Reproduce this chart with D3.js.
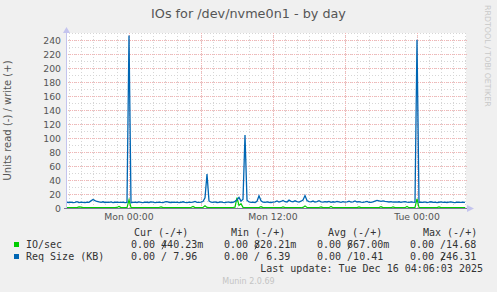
<!DOCTYPE html>
<html>
<head>
<meta charset="UTF-8">
<title>IOs for /dev/nvme0n1 - by day</title>
<script src="https://d3js.org/d3.v7.min.js"></script>
<style>
  body { margin: 0; background: #f0f0f0; }
  svg { display: block; font-family: "DejaVu Sans", sans-serif; }
  .mono { font-family: "DejaVu Sans Mono", monospace; font-size: 10px; fill: #333; white-space: pre; }
  .tick-label { font-size: 9.3px; fill: #555; }
</style>
</head>
<body>
<svg id="chart" width="497" height="292"></svg>
<script>
// samples every 10 minutes, starting Sun 14 Dec 2025 18:50
const startTime = new Date(2025, 11, 14, 18, 50);
const stepMinutes = 10;

// Req Size (KB), write side
const reqSizeWrite = [
  8.2, 7.9, 8.5, 7.6, 8.1, 9.0, 7.8, 8.3, 8.0, 7.7,
  8.4, 8.1, 10.2, 12.1, 10.5, 9.3, 8.6, 8.2, 8.9, 7.9,
  8.3, 8.0, 8.7, 7.8, 8.2, 8.5, 7.9, 8.1, 8.4, 7.8,
  8.0, 246.31, 7.5, 8.0, 8.3, 7.9, 8.6, 8.1, 7.8, 8.4,
  8.2, 7.9, 8.8, 8.3, 7.7, 8.1, 8.5, 8.0, 7.8, 8.6,
  9.1, 8.2, 7.9, 8.4, 8.0, 8.3, 7.6, 8.2, 8.9, 8.1,
  7.8, 8.5, 8.0, 8.3, 9.4, 8.1, 7.9, 8.4, 9.2, 14.5,
  48.5, 10.1, 8.3, 8.0, 8.6, 7.9, 8.2, 8.8, 8.1, 7.7,
  8.3, 8.5, 7.9, 8.2, 9.5, 11.8, 15.2, 9.8, 12.5, 104.2,
  11.0, 8.6, 8.1, 8.4, 7.9, 9.6, 17.5, 10.2, 8.3, 8.0,
  8.7, 8.2, 7.9, 8.4, 8.9, 10.1, 8.5, 9.3, 10.8, 9.0,
  8.6, 11.2, 9.4, 8.8, 10.3, 9.1, 8.4, 9.7, 11.5, 17.8,
  10.6, 9.2, 8.7, 9.9, 8.5, 9.1, 10.4, 8.8, 8.3, 9.0,
  8.6, 9.5, 8.2, 8.9, 8.4, 9.3, 8.7, 8.1, 9.0, 8.5,
  8.8, 9.6, 8.3, 8.9, 10.0, 8.6, 9.2, 8.4, 8.1, 8.7,
  9.4, 8.2, 8.0, 8.8, 9.9, 10.8, 10.2, 9.6, 10.1, 9.4,
  9.0, 8.6, 9.2, 8.5, 8.8, 8.3, 8.9, 8.2, 8.6, 9.1,
  8.4, 8.0, 8.7, 8.3, 8.1, 240.5, 7.9, 8.4, 8.1, 8.6,
  7.8, 8.3, 8.9, 8.0, 8.5, 7.7, 8.2, 8.6, 8.0, 8.4,
  7.9, 8.3, 8.7, 8.1, 7.8, 8.5, 8.2, 8.0, 8.4, 7.96
];

// IO/sec, write side
const ioWrite = [
  0.5, 0.6, 0.4, 0.5, 0.7, 0.5, 1.6, 1.2, 0.5, 0.4,
  0.6, 0.5, 0.5, 0.7, 0.4, 0.5, 0.6, 0.5, 0.4, 0.6,
  0.5, 0.7, 0.5, 0.4, 0.6, 0.8, 2.1, 0.6, 0.5, 0.4,
  0.6, 11.5, 0.7, 0.5, 0.4, 0.6, 0.5, 0.5, 0.7, 0.4,
  0.5, 0.6, 0.5, 0.4, 0.6, 0.5, 0.7, 1.6, 0.5, 0.4,
  0.6, 0.5, 0.4, 0.5, 0.7, 0.5, 0.6, 0.4, 0.5, 0.6,
  0.5, 0.4, 0.7, 2.2, 0.6, 0.5, 0.4, 0.6, 0.8, 3.1,
  0.9, 0.5, 0.6, 0.4, 0.5, 0.7, 0.5, 0.4, 0.6, 0.5,
  0.5, 0.6, 0.4, 0.7, 1.2, 14.68, 3.8, 6.2, 0.9, 0.6,
  0.5, 0.4, 0.6, 0.5, 0.7, 0.5, 0.6, 2.0, 0.5, 0.4,
  0.6, 0.5, 0.4, 0.5, 0.6, 0.7, 0.5, 0.4, 1.6, 0.5,
  0.6, 0.5, 0.4, 0.6, 0.5, 0.7, 0.5, 0.4, 0.8, 3.0,
  0.7, 0.5, 0.4, 0.6, 0.5, 0.5, 0.7, 1.5, 0.5, 0.4,
  0.6, 0.5, 2.1, 0.5, 0.4, 0.6, 0.5, 0.7, 0.5, 0.4,
  0.5, 0.6, 0.4, 0.5, 0.7, 0.5, 1.6, 0.5, 0.4, 0.6,
  0.5, 0.7, 0.5, 0.4, 0.6, 0.5, 0.5, 2.0, 0.6, 0.4,
  0.5, 0.6, 0.4, 1.5, 0.5, 0.7, 0.5, 0.4, 0.6, 0.5,
  2.1, 0.5, 0.4, 0.6, 0.8, 13.2, 0.7, 0.5, 0.4, 0.6,
  0.5, 0.4, 0.6, 0.5, 0.7, 0.5, 1.5, 0.5, 0.4, 0.6,
  0.5, 0.7, 0.5, 0.4, 0.6, 0.5, 0.4, 0.6, 0.5, 0.44
];

const yTickValues = [0, 20, 40, 60, 80, 100, 120, 140, 160, 180, 200, 220, 240];
const xTickFormat = "%a %H:%M";

// legend table
const statHeaders = ["Cur (-/+)", "Min (-/+)", "Avg (-/+)", "Max (-/+)"];
const seriesNames = ["IO/sec", "Req Size (KB)"];
const ioReadStats = ["0.00", "0.00", "0.00", "0.00"];
const ioWriteStats = ["440.23m", "820.21m", "667.00m", "14.68"];
const reqReadStats = ["0.00", "0.00", "0.00", "0.00"];
const reqWriteStats = ["7.96", "6.39", "10.41", "246.31"];

const green = "#00cc00", blue = "#0066b3";
const svg = d3.select("#chart");

const x = d3.scaleTime()
    .domain([new Date(2025, 11, 14, 18, 45), new Date(2025, 11, 16, 4, 5)])
    .range([66, 466]);
const y = d3.scaleLinear().domain([0, 250]).range([208, 33]);
const timeOf = i => new Date(startTime.getTime() + i * stepMinutes * 60000);

// plot background
svg.append("rect")
    .attr("x", x.range()[0]).attr("y", y(250))
    .attr("width", x.range()[1] - x.range()[0]).attr("height", y(0) - y(250))
    .attr("fill", "#fff");

// grid
const minorCol = "#d6d6d6", majorCol = "#f5b4b4";
const grid = svg.append("g").attr("shape-rendering", "crispEdges");
grid.selectAll(".vmin").data(x.ticks(d3.timeHour.every(1))).enter().append("line")
    .attr("x1", d => Math.round(x(d)) + 0.5).attr("x2", d => Math.round(x(d)) + 0.5)
    .attr("y1", y(250)).attr("y2", y(0))
    .attr("stroke", minorCol).attr("stroke-dasharray", "1,2");
grid.selectAll(".hmin").data(d3.range(10, 251, 10)).enter().append("line")
    .attr("x1", x.range()[0]).attr("x2", x.range()[1] + 2)
    .attr("y1", d => Math.round(y(d)) + 0.5).attr("y2", d => Math.round(y(d)) + 0.5)
    .attr("stroke", minorCol).attr("stroke-dasharray", "1,2");
grid.selectAll(".vmaj").data(x.ticks(d3.timeHour.every(6))).enter().append("line")
    .attr("x1", d => Math.round(x(d)) + 0.5).attr("x2", d => Math.round(x(d)) + 0.5)
    .attr("y1", y(250)).attr("y2", y(0))
    .attr("stroke", majorCol).attr("stroke-dasharray", "1,1");
grid.selectAll(".hmaj").data(yTickValues.filter(d => d > 0)).enter().append("line")
    .attr("x1", x.range()[0]).attr("x2", x.range()[1] + 2)
    .attr("y1", d => Math.round(y(d)) + 0.5).attr("y2", d => Math.round(y(d)) + 0.5)
    .attr("stroke", majorCol).attr("stroke-dasharray", "1,1");

// y labels
svg.append("g").selectAll("text").data(yTickValues).enter().append("text")
    .attr("class", "tick-label")
    .attr("x", 61).attr("y", d => y(d) + 3.5)
    .attr("text-anchor", "end")
    .text(d => d);

// x labels
const fmt = d3.timeFormat(xTickFormat);
svg.append("g").selectAll("text").data(x.ticks(d3.timeHour.every(12))).enter().append("text")
    .attr("class", "tick-label")
    .attr("x", d => x(d)).attr("y", 220)
    .attr("text-anchor", "middle")
    .text(d => fmt(d));

// series
const line = d3.line().x((d, i) => x(timeOf(i))).y(d => y(d));
svg.append("path").datum(ioWrite).attr("d", line)
    .attr("fill", "none").attr("stroke", green).attr("stroke-width", 1.2);
svg.append("path").datum(reqSizeWrite).attr("d", line)
    .attr("fill", "none").attr("stroke", blue).attr("stroke-width", 1.3);

// axes with arrows
const axisCol = "#c4c4ee";
svg.append("line").attr("x1", 66.5).attr("x2", 66.5).attr("y1", 30).attr("y2", 209)
    .attr("stroke", axisCol).attr("shape-rendering", "crispEdges");
svg.append("path").attr("d", "M63,33L66.5,27L70,33Z").attr("fill", axisCol);
svg.append("line").attr("x1", 64).attr("x2", 470).attr("y1", 208.5).attr("y2", 208.5)
    .attr("stroke", "#7a7a96").attr("shape-rendering", "crispEdges");
svg.append("path").attr("d", "M467,205L474,208.5L467,212Z").attr("fill", axisCol);

// title and side texts
svg.append("text").attr("x", 248.5).attr("y", 17.5).attr("text-anchor", "middle")
    .attr("font-size", 12.8).attr("fill", "#555").text("IOs for /dev/nvme0n1 - by day");
svg.append("text").attr("transform", "translate(11,120.5) rotate(-90)")
    .attr("text-anchor", "middle").attr("font-size", 10).attr("fill", "#555")
    .text("Units read (-) / write (+)");
svg.append("text").attr("transform", "translate(485,5) rotate(90)")
    .attr("font-size", 7.9).attr("fill", "#c8c8c8").text("RRDTOOL / TOBI OETIKER");

// legend
const cw = 6.02;
const headerX = [134, 231, 328, 423];
const valueX = [131, 224, 317, 410];
svg.append("g").selectAll("text").data(statHeaders).enter().append("text")
    .attr("class", "mono").attr("x", (d, i) => headerX[i]).attr("y", 236).text(d => d);

const rows = [
  {name: seriesNames[0], color: green, read: ioReadStats, write: ioWriteStats, y: 248},
  {name: seriesNames[1], color: blue, read: reqReadStats, write: reqWriteStats, y: 260}
];
rows.forEach(r => {
  svg.append("rect").attr("x", 14).attr("y", r.y - 6).attr("width", 5).attr("height", 5)
      .attr("fill", r.color);
  svg.append("text").attr("class", "mono").attr("x", 26).attr("y", r.y).text(r.name);
  r.read.forEach((v, i) => {
    // rrdtool prints the write value right-aligned from the "/" column;
    // long values are printed over the slash
    const w = r.write[i].padStart(6);
    const over = w[0] !== " ";
    svg.append("text").attr("class", "mono").attr("x", valueX[i]).attr("y", r.y)
        .text(over ? v + " " + w : v + " /" + w.slice(1));
    if (over) {
      const cx = valueX[i] + 5.5 * cw;
      svg.append("line")
          .attr("x1", cx - 2.1).attr("y1", r.y + 1.3)
          .attr("x2", cx + 2.1).attr("y2", r.y - 7.3)
          .attr("stroke", "#333").attr("stroke-width", 0.9);
    }
  });
});

svg.append("text").attr("class", "mono").attr("x", 483).attr("y", 272)
    .attr("text-anchor", "end").text("Last update: Tue Dec 16 04:06:03 2025");
svg.append("text").attr("x", 248.5).attr("y", 284).attr("text-anchor", "middle")
    .attr("font-size", 8).attr("fill", "#c4c4c4").text("Munin 2.0.69");
</script>
</body>
</html>
